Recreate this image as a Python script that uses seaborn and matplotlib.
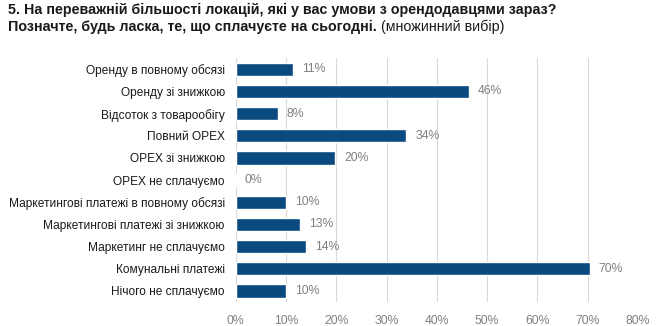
import matplotlib
matplotlib.use("Agg")
import matplotlib.pyplot as plt
import seaborn as sns
import pandas as pd

categories = [
    "Оренду в повному обсязі",
    "Оренду зі знижкою",
    "Відсоток з товарообігу",
    "Повний OPEX",
    "OPEX зі знижкою",
    "OPEX не сплачуємо",
    "Маркетингові платежі в повному обсязі",
    "Маркетингові платежі зі знижкою",
    "Маркетинг не сплачуємо",
    "Комунальні платежі",
    "Нічого не сплачуємо",
]
values = [11.3, 46.4, 8.3, 33.9, 19.8, 0.0, 9.9, 12.7, 13.9, 70.4, 9.9]
xticks = [0, 10, 20, 30, 40, 50, 60, 70, 80]

title_line1 = "5. На переважній більшості локацій, які у вас умови з орендодавцями зараз?"
title_line2_bold = "Позначте, будь ласка, те, що сплачуєте на сьогодні."
title_line2_reg = "(множинний вибір)"

sns.set_theme(style="white")
plt.rcParams["font.family"] = ["Liberation Sans", "DejaVu Sans"]

df = pd.DataFrame({"cat": categories, "val": values})

fig = plt.figure(figsize=(6.57, 3.26), dpi=100)
ax = fig.add_axes([0.359, 0.0736, 0.612, 0.748])

sns.barplot(data=df, y="cat", x="val", color="#0b4a7e", width=0.6,
            saturation=1, ax=ax, zorder=3)

ax.set_xlim(0, 80)
ax.set_xticks(xticks)
ax.set_xticklabels([f"{t}%" for t in xticks])
ax.grid(axis="x", color="#d9d9d9", linewidth=0.8, zorder=0)
ax.grid(axis="y", visible=False)
for s in ax.spines.values():
    s.set_visible(False)
ax.set_xlabel("")
ax.set_ylabel("")
ax.tick_params(axis="x", colors="#808080", labelsize=8.8, length=0, pad=9)
ax.tick_params(axis="y", labelcolor="#1a1a1a", labelsize=8.6, length=0, pad=8)

for i, v in enumerate(values):
    ax.annotate(f"{round(v)}%", xy=(v, i), xytext=(6.5, 0),
                textcoords="offset points", va="center", ha="left",
                fontsize=8.8, color="#808080")

t1 = fig.text(8 / 657, 1 - 10 / 326, title_line1, fontsize=10.3,
              fontweight="bold", color="#1a1a1a", va="center", ha="left")
t2 = fig.text(8 / 657, 1 - 27 / 326, title_line2_bold, fontsize=10.3,
              fontweight="bold", color="#1a1a1a", va="center", ha="left")
ax.annotate(title_line2_reg, xy=(1, 0.5), xycoords=t2, xytext=(3, 0),
            textcoords="offset points", va="center", ha="left",
            fontsize=10.3, color="#1a1a1a", annotation_clip=False)

fig.savefig("out.png", dpi=100)
